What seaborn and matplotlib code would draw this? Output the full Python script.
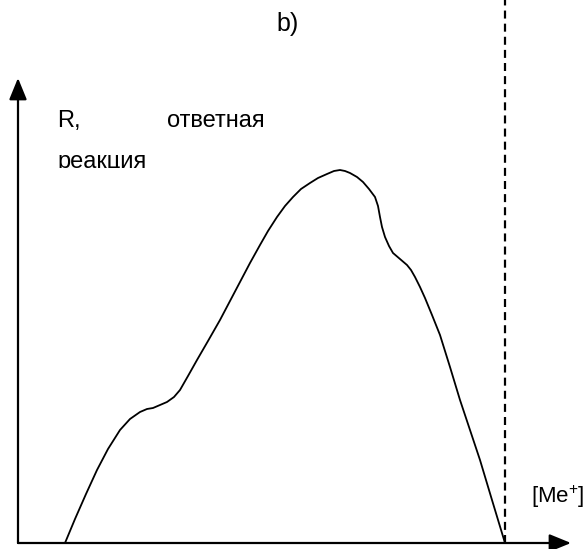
import matplotlib
matplotlib.use("Agg")
import matplotlib.pyplot as plt
import seaborn as sns
import pandas as pd
from matplotlib.patches import Rectangle

sns.set_theme(style="white")
plt.rcParams["font.family"] = ["Liberation Sans", "DejaVu Sans"]
plt.rcParams["text.color"] = "black"
plt.rcParams["mathtext.fontset"] = "custom"
plt.rcParams["mathtext.rm"] = "Liberation Sans"

# Response R versus metal-ion concentration [Me+]
concentration = [47, 52, 57, 68, 79, 90, 102, 112, 122, 129, 135, 142, 149, 156, 162,
                 170, 179, 190, 202, 212, 222, 232, 242, 250, 259, 267, 275, 283,
                 292, 300, 309, 316, 322, 327, 332, 339, 345, 351, 357, 360, 362,
                 364, 367, 371, 375, 382, 389, 393, 397, 402, 407, 414, 422, 432,
                 442, 452, 462, 474, 487]
response = [0, 12, 24, 49, 73, 94, 113, 124, 131, 134, 135, 138, 141, 146, 153,
            167, 183, 202, 223, 242, 261, 280, 298, 312, 326, 337, 346, 354,
            360, 365, 369, 372, 373, 372, 370, 366, 361, 354, 346, 337, 326,
            316, 306, 297, 290, 284, 278, 273, 266, 256, 245, 228, 208, 176,
            143, 113, 83, 43, 0]
toxic_limit = 487          # dashed boundary on the concentration axis
axis_x_end = 553
axis_y_end = 465

df = pd.DataFrame({"conc": concentration, "R": response})

fig = plt.figure(figsize=(5.87, 5.49), dpi=100)
ax = fig.add_axes([0, 0, 1, 1])
ax.set_xlim(-18, 569)
ax.set_ylim(-6, 543)
ax.axis("off")

sns.lineplot(data=df, x="conc", y="R", ax=ax, color="black", lw=1.3,
             sort=False, estimator=None)

# Coordinate axes with arrowheads
arrow = dict(arrowstyle="-|>,head_length=1.1,head_width=0.45", color="black",
             lw=1.6, shrinkA=0, shrinkB=0)
ax.annotate("", xy=(axis_x_end, 0), xytext=(0, 0), arrowprops=arrow)
ax.annotate("", xy=(0, axis_y_end), xytext=(0, 0), arrowprops=arrow)

# Dashed vertical boundary
ax.plot([toxic_limit, toxic_limit], [0, 543], color="black", lw=1.6,
        ls=(0, (3.6, 2.3)))

# Labels
ax.text(39, 416, "R,", fontsize=17, ha="left", va="baseline")
ax.text(149, 416, "ответная", fontsize=17, ha="left", va="baseline")
t = ax.text(39, 375, "реакция", fontsize=17, ha="left", va="baseline")
clip = Rectangle((30, 375), 200, 40, transform=ax.transData, visible=False)
ax.add_patch(clip)
t.set_clip_path(clip)
t.set_clip_on(True)

ax.text(270, 512, "b)", fontsize=18, ha="center", va="baseline")
ax.text(513, 40, "[Me$^{+}$]", fontsize=16, ha="left", va="baseline")

fig.savefig("out.png", dpi=100)
